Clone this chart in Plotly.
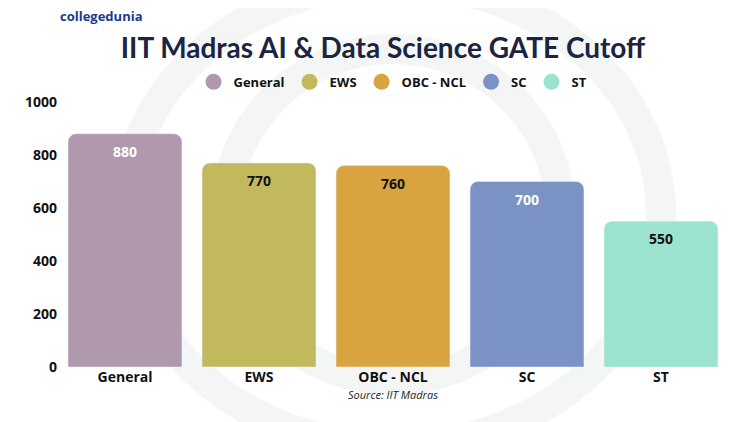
import plotly.graph_objects as go

categories = ["General", "EWS", "OBC - NCL", "SC", "ST"]
cutoffs = [880, 770, 760, 700, 550]
colors = ["#B098AE", "#C2B95E", "#D8A43F", "#7B93C4", "#9BE3CF"]
label_colors = ["white", "#111111", "#111111", "white", "#111111"]

fig = go.Figure()

for cat, val, col, lc in zip(categories, cutoffs, colors, label_colors):
    fig.add_trace(go.Bar(
        x=[cat], y=[val], marker=dict(color=col, cornerradius=8),
        text=[str(val)], textposition="inside", insidetextanchor="end",
        textfont=dict(color=lc, size=14, family="Open Sans", weight="bold"),
        showlegend=False, width=0.85, name=cat,
    ))
    # legend entry with a round marker
    fig.add_trace(go.Scatter(
        x=[None], y=[None], mode="markers", name=cat,
        marker=dict(symbol="circle", size=16, color=col),
    ))

# faint decorative rings
for x0, y0, x1, y1 in [(0.1, -0.3, 0.9, 1.45), (0.25, -0.05, 0.75, 1.2)]:
    fig.add_shape(type="circle", xref="paper", yref="paper",
                  x0=x0, y0=y0, x1=x1, y1=y1,
                  line=dict(color="rgba(200,215,210,0.22)", width=30), layer="below")

fig.add_annotation(text="<b>collegedunia</b>", xref="paper", yref="paper",
                   x=0.0, y=1.325, xanchor="left", yanchor="middle", showarrow=False,
                   font=dict(size=13, color="#1B3A8C", family="Open Sans"))
fig.add_annotation(text="<i>Source: IIT Madras</i>", xref="paper", yref="paper",
                   x=0.5, y=-0.14, showarrow=False,
                   font=dict(size=11, color="#222", family="Open Sans"))

fig.update_layout(
    width=750, height=422,
    margin=dict(l=50, r=30, t=94, b=63, autoexpand=False),
    paper_bgcolor="white", plot_bgcolor="rgba(0,0,0,0)",
    bargap=0.15,
    title=dict(text="<b>IIT Madras AI & Data Science GATE Cutoff</b>",
               x=0.5, xanchor="center", y=0.905, yanchor="middle",
               font=dict(size=28, color="#1B2440", family="Lato")),
    font=dict(family="Open Sans", color="#111"),
    legend=dict(orientation="h", x=0.5, xanchor="center", yref="container",
                y=0.825, yanchor="middle", bgcolor="rgba(0,0,0,0)",
                font=dict(size=13, weight="bold"), itemwidth=30),
    xaxis=dict(showgrid=False, tickfont=dict(size=14, weight="bold"), ticks=""),
    yaxis=dict(range=[0, 1000], dtick=200, showgrid=False, zeroline=False,
               tickfont=dict(size=14, weight="bold")),
)

fig.write_html("out.html")
